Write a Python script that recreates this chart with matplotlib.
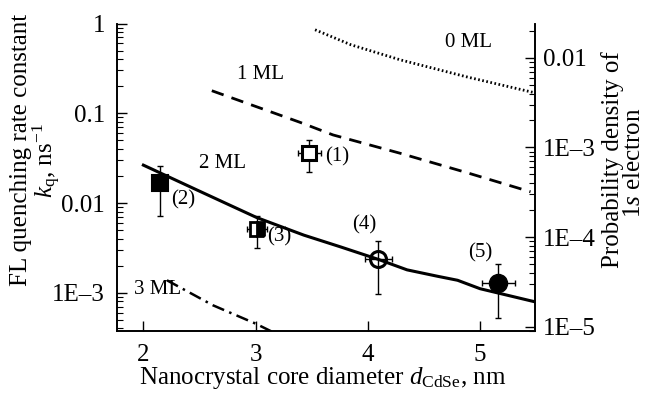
import numpy as np
import matplotlib
matplotlib.use("Agg")
import matplotlib.pyplot as plt
from matplotlib.ticker import LogLocator, NullFormatter

plt.rcParams["font.family"] = ["Liberation Serif", "DejaVu Serif"]
plt.rcParams["mathtext.fontset"] = "custom"
plt.rcParams["mathtext.rm"] = "Liberation Serif"
plt.rcParams["mathtext.it"] = "Liberation Serif:italic"

# calculated 1s electron probability density at the surface (right axis)
d_0ml = [3.53, 3.85, 4.29, 4.89, 5.48]
p_0ml = [0.0206, 0.014, 0.0095, 0.0061, 0.0041]

d_1ml = [2.61, 3.40, 3.69, 4.29, 4.89, 5.45]
p_1ml = [0.0043, 0.0019, 0.00138, 8.6e-4, 5.2e-4, 3.2e-4]

d_2ml = [2.0, 2.48, 2.77, 3.01, 3.43, 3.76, 4.09, 4.35, 4.62, 4.80, 5.0, 5.49]
p_2ml = [6.35e-4, 3.34e-4, 2.27e-4, 1.65e-4, 1.05e-4, 7.74e-5, 5.65e-5,
         4.3e-5, 3.65e-5, 3.29e-5, 2.65e-5, 1.89e-5]

d_3ml = [2.21, 2.62, 3.0, 3.3]
p_3ml = [3.29e-5, 1.73e-5, 1.08e-5, 7.05e-6]

# measured FL quenching rate constants (left axis), samples (1)..(5)
sample_labels = ["(1)", "(2)", "(3)", "(4)", "(5)"]
d_exp = [3.48, 2.145, 3.01, 4.093, 5.164]
d_err = [0.10, 0.0, 0.09, 0.12, 0.15]
k_exp = [0.036, 0.0167, 0.0051, 0.00238, 0.0013]
k_hi = [0.0507, 0.026, 0.0072, 0.00379, 0.00208]
k_lo = [0.0223, 0.0072, 0.00314, 0.00096, 0.00052]

left_ticks = [1e-3, 1e-2, 0.1, 1]
left_ticklabels = ["1E\u20133", "0.01", "0.1", "1"]
right_ticks = [1e-5, 1e-4, 1e-3, 1e-2]
right_ticklabels = ["1E\u20135", "1E\u20134", "1E\u20133", "0.01"]
x_ticks = [2, 3, 4, 5]

FS = 18

fig = plt.figure(figsize=(6.52, 3.93), dpi=100)
ax = fig.add_axes([117 / 652, 1 - 330.7 / 393, (535 - 117) / 652, (330.7 - 23.5) / 393])
ax2 = ax.twinx()

# curves on the right axis
ax2.plot(d_0ml, p_0ml, color="black", lw=2.0, dashes=(0.6, 0.9))
ax2.plot(d_1ml, p_1ml, color="black", lw=2.0, dashes=(4.5, 3.0))
ax2.plot(d_2ml, p_2ml, color="black", lw=2.2)
ax2.plot(d_3ml, p_3ml, color="black", lw=1.8, dashes=(5, 2.2, 1, 2.2))

# experimental points on the left axis, drawn above the curves
ax.set_zorder(ax2.get_zorder() + 1)
ax.patch.set_visible(False)
for i in range(len(d_exp)):
    yerr = [[k_exp[i] - k_lo[i]], [k_hi[i] - k_exp[i]]]
    xerr = [[d_err[i]], [d_err[i]]] if d_err[i] > 0 else None
    ax.errorbar([d_exp[i]], [k_exp[i]], yerr=yerr, xerr=xerr, fmt="none",
                ecolor="black", elinewidth=1.0, capsize=2.5, capthick=1.0)

ax.plot(d_exp[0], k_exp[0], "s", ms=10.5, mfc="white", mec="black", mew=2.2)
ax.plot(d_exp[1], k_exp[1], "s", ms=11, mfc="black", mec="black", mew=1.5)
ax.plot(d_exp[2], k_exp[2], "s", ms=10.5, fillstyle="right", mfc="black",
        markerfacecoloralt="white", mec="black", mew=2.0)
ax.plot(d_exp[3], k_exp[3], "o", ms=11.5, mfc="none", mec="black", mew=2.2)
ax.plot(d_exp[4], k_exp[4], "o", ms=13, mfc="black", mec="black", mew=1.0)

# sample numbers
ax.text(3.62, 0.033, sample_labels[0], fontsize=15, ha="left", va="center")
ax.text(2.245, 0.0109, sample_labels[1], fontsize=15, ha="left", va="center")
ax.text(3.107, 0.00423, sample_labels[2], fontsize=15, ha="left", va="center")
ax.text(3.97, 0.00571, sample_labels[3], fontsize=15, ha="center", va="center")
ax.text(5.0, 0.0028, sample_labels[4], fontsize=15, ha="center", va="center")

# shell thickness labels
ax.text(4.895, 0.61, "0 ML", fontsize=15, ha="center", va="center")
ax.text(3.04, 0.27, "1 ML", fontsize=15, ha="center", va="center")
ax.text(2.705, 0.0279, "2 ML", fontsize=15, ha="center", va="center")
ax.text(2.127, 0.0011, "3 ML", fontsize=15, ha="center", va="center")

# axes setup
ax.set_xlim(1.765, 5.49)
ax.set_yscale("log")
ax.set_ylim(3.78e-4, 1.0)
ax2.set_yscale("log")
ax2.set_ylim(9.0e-6, 0.0242)

ax.set_xticks(x_ticks)
ax.set_xticklabels([str(t) for t in x_ticks])
ax.set_yticks(left_ticks)
ax.set_yticklabels(left_ticklabels)
ax.yaxis.set_minor_locator(LogLocator(base=10, subs=np.arange(2, 10), numticks=20))
ax.yaxis.set_minor_formatter(NullFormatter())
ax2.set_yticks(right_ticks)
ax2.set_yticklabels(right_ticklabels)
ax2.yaxis.set_minor_locator(LogLocator(base=10, subs=np.arange(2, 10), numticks=20))
ax2.yaxis.set_minor_formatter(NullFormatter())

ax.tick_params(axis="x", which="major", direction="in", length=7, width=1.0,
               pad=9.5, labelsize=FS)
ax.tick_params(axis="y", which="major", direction="in", length=7, width=1.0,
               pad=8.5, labelsize=FS, right=False)
ax.tick_params(axis="y", which="minor", direction="in", length=4, width=0.8, right=False)
ax2.tick_params(axis="y", which="major", direction="in", length=7, width=1.0,
                pad=5.5, labelsize=FS)
ax2.tick_params(axis="y", which="minor", direction="in", length=4, width=0.8)

for a in (ax, ax2):
    a.spines["top"].set_visible(False)
    for s in ("left", "right", "bottom"):
        a.spines[s].set_linewidth(1.2)

# axis titles
fig.text(21 / 652, 1 - 150 / 393, "FL quenching rate constant", rotation=90,
         fontsize=FS, ha="center", va="center")
fig.text(47 / 652, 1 - 160 / 393, r"$k_\mathrm{q}$, ns$^{-1}$", rotation=90,
         fontsize=FS, ha="center", va="center")
fig.text(613 / 652, 1 - 160 / 393, "Probability density of", rotation=90,
         fontsize=FS, ha="center", va="center")
fig.text(634 / 652, 1 - 163 / 393, r"$\mathit{1s}$ electron", rotation=90,
         fontsize=FS, ha="center", va="center")
fig.text(323 / 652, 9 / 393, r"Nanocrystal core diameter $d_\mathrm{CdSe}$, nm",
         fontsize=FS, ha="center", va="baseline")

fig.savefig("out.png", dpi=100)
